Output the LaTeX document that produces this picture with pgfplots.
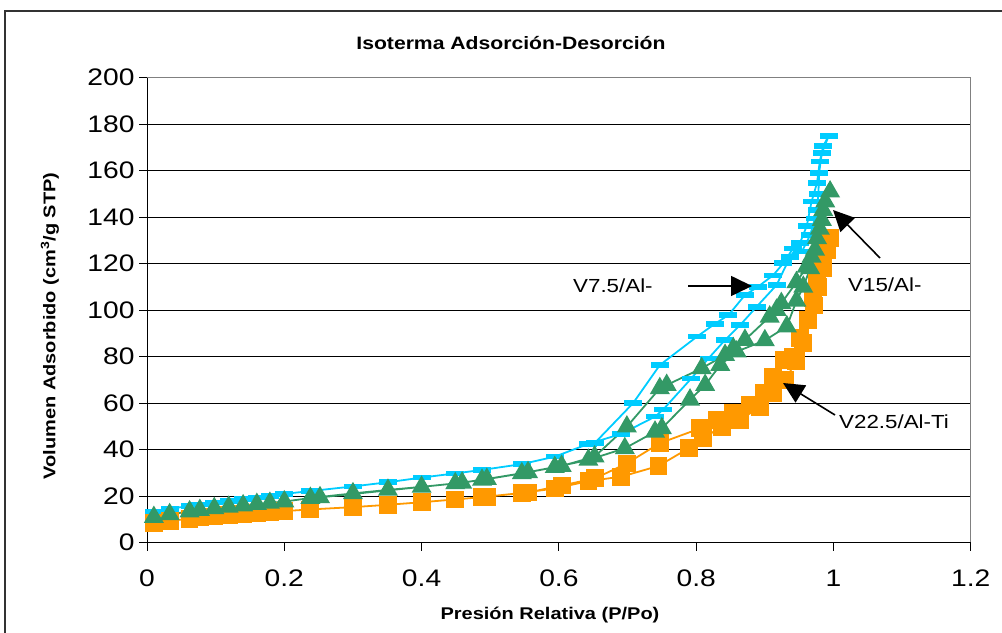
\documentclass[border=0pt]{standalone}
\usepackage{fontspec}
\setmainfont{Liberation Sans}[FakeStretch=1.18]
\usepackage{pgfplots}
\pgfplotsset{compat=1.18}
\usetikzlibrary{arrows.meta}

\definecolor{serieA}{HTML}{00CCFF}
\definecolor{serieB}{HTML}{339966}
\definecolor{serieC}{HTML}{FF9900}
\definecolor{marco}{HTML}{808080}

% horizontal dash marker
\pgfdeclareplotmark{hbar}{%
  \pgfpathrectangle{\pgfqpoint{-9bp}{-2.8bp}}{\pgfqpoint{18bp}{5.6bp}}%
  \pgfusepathqfill}

% V7.5/Al- : adsorcion y desorcion
\pgfplotstableread{
p v
0.010 13.3
0.033 14.6
0.062 15.8
0.077 16.5
0.098 17.3
0.119 18.0
0.140 18.8
0.160 19.5
0.179 20.2
0.200 21.0
0.238 22.2
0.300 24.2
0.351 26.0
0.400 28.0
0.449 29.8
0.488 31.3
0.546 33.8
0.594 37.0
0.643 42.5
0.691 46.8
0.740 54.2
0.752 57.3
0.793 70.7
0.818 79.3
0.842 87.2
0.864 93.6
0.888 101.5
0.917 110.8
0.937 123.0
0.951 128.8
0.961 136.2
0.968 146.7
0.976 154.8
0.980 163.9
0.985 170.6
0.993 175.0
0.983 167.5
0.979 159.1
0.978 150.0
0.976 143.1
0.973 139.5
0.966 132.3
0.954 125.2
0.941 126.6
0.927 120.2
0.912 115.0
0.890 110.1
0.871 106.5
0.847 97.9
0.827 94.1
0.801 88.6
0.747 76.4
0.708 60.0
0.652 42.8
}\datosA

% V15/Al-
\pgfplotstableread{
p v
0.010 11.0
0.033 12.2
0.062 13.4
0.077 14.0
0.098 14.8
0.119 15.4
0.140 16.0
0.160 16.6
0.179 17.1
0.200 17.7
0.238 19.2
0.300 21.2
0.351 22.7
0.400 24.0
0.449 25.5
0.488 27.0
0.546 29.8
0.594 32.5
0.643 35.6
0.696 40.6
0.740 47.7
0.750 49.2
0.791 61.5
0.813 67.8
0.835 76.4
0.859 82.2
0.900 87.0
0.932 93.0
0.946 104.0
0.956 110.0
0.966 118.0
0.973 126.0
0.980 135.0
0.985 143.0
0.995 151.0
0.988 146.7
0.983 138.8
0.976 130.9
0.968 123.0
0.961 118.7
0.946 112.0
0.924 103.0
0.917 100.1
0.907 97.2
0.871 87.2
0.854 83.6
0.842 80.7
0.808 75.0
0.757 67.8
0.747 66.4
0.699 49.9
0.652 37.0
0.604 33.0
0.555 30.3
0.495 27.4
0.459 25.8
0.252 19.5
}\datosB

% V22.5/Al-Ti
\pgfplotstableread{
p v
0.010 8.3
0.033 9.4
0.062 10.3
0.077 10.8
0.098 11.3
0.119 11.8
0.140 12.3
0.160 12.7
0.179 13.1
0.200 13.6
0.238 14.3
0.300 15.3
0.351 16.3
0.400 17.4
0.449 18.6
0.488 19.6
0.546 21.4
0.594 23.3
0.643 26.5
0.691 28.4
0.745 33.0
0.789 40.6
0.810 44.9
0.837 49.9
0.864 52.8
0.893 58.5
0.912 64.3
0.930 70.0
0.945 78.0
0.955 86.0
0.963 96.0
0.970 105.0
0.976 114.0
0.982 121.0
0.988 127.0
0.995 131.0
0.990 126.0
0.985 118.0
0.978 110.0
0.972 102.0
0.963 95.8
0.951 88.0
0.941 80.0
0.927 78.6
0.912 71.4
0.898 64.3
0.878 59.2
0.854 55.7
0.830 52.8
0.806 49.2
0.747 42.8
0.699 34.1
0.653 27.7
0.604 24.6
0.555 21.6
0.495 19.8
}\datosC

\begin{document}
\begin{tikzpicture}[x=1bp,y=1bp]
\useasboundingbox (0,0) rectangle (1002,633);
\clip (0,0) rectangle (1002,633);
% chart area frame
\draw[line width=1.3bp, black!80] (5,-10) -- (5,622) -- (1012,622);

\begin{axis}[
  at={(147bp,90.3bp)}, anchor=south west,
  scale only axis, width=823.8bp, height=465bp,
  xmin=0, xmax=1.2, ymin=0, ymax=200,
  xtick={0,0.2,0.4,0.6,0.8,1,1.2},
  xticklabels={0,0.2,0.4,0.6,0.8,1,1.2},
  ytick={0,20,40,60,80,100,120,140,160,180,200},
  yticklabels={0,20,40,60,80,100,120,140,160,180,200},
  xtick pos=bottom, ytick pos=left,
  tick align=outside, major tick length=8bp,
  tick style={black, line width=1bp},
  axis line style={draw=none},
  ymajorgrids, grid style={black, line width=1bp},
  ticklabel style={font=\fontsize{24}{24}\selectfont},
  xticklabel style={yshift=-16bp},
  yticklabel style={xshift=-1bp},
]
\addplot[serieA, line width=1.8bp, mark=hbar] table[x=p, y=v] {\datosA};
\addplot[serieC, line width=1.8bp, mark=square*, mark size=8bp] table[x=p, y=v] {\datosC};
\addplot[serieB, line width=1.8bp, mark=triangle*, mark size=9.8bp] table[x=p, y=v] {\datosB};
% plot area border
\draw[marco, line width=1.3bp] (axis cs:0,200) -- (axis cs:1.2,200) -- (axis cs:1.2,0);
\draw[black, line width=1.3bp] (axis cs:0,200) -- (axis cs:0,0) -- (axis cs:1.2,0);
\end{axis}

% titles
\node[font=\bfseries\fontsize{18}{18}\selectfont] at (511,590) {Isoterma Adsorción-Desorción};
\node[font=\bfseries\fontsize{17}{17}\selectfont] at (550,18) {Presión Relativa (P/Po)};
\node[font=\bfseries\fontsize{17}{17}\selectfont, rotate=90] at (50,307) {Volumen Adsorbido (cm\textsuperscript{3}/g STP)};

% series labels
\node[font=\fontsize{19}{19}\selectfont, anchor=west, inner sep=0pt] at (573,347) {V7.5/Al-};
\draw[line width=1.6bp, -{Triangle[length=21bp,width=20bp]}] (688,347) -- (752,347);
\node[font=\fontsize{19}{19}\selectfont, anchor=west, inner sep=0pt] at (848,348) {V15/Al-};
\draw[line width=1.6bp, -{Triangle[length=21bp,width=20bp]}] (880,375) -- (833,423);
\node[font=\fontsize{19}{19}\selectfont, anchor=west, inner sep=0pt] at (839,211) {V22.5/Al-Ti};
\draw[line width=1.6bp, -{Triangle[length=21bp,width=20bp]}] (835,218) -- (783,250);
\end{tikzpicture}
\end{document}
